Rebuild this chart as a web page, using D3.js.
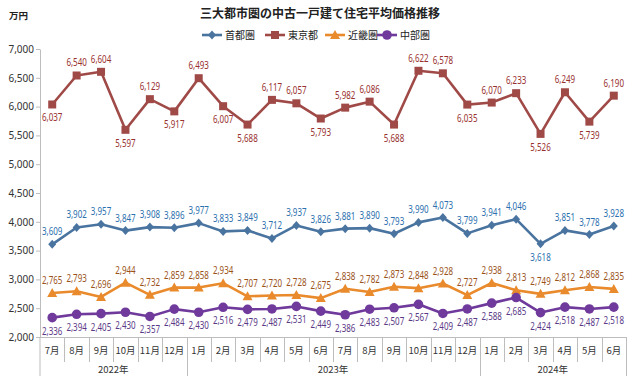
<!DOCTYPE html>
<html><head><meta charset="utf-8">
<script src="https://cdn.jsdelivr.net/npm/d3@7"></script>
<style>body{margin:0;background:#fff}svg{display:block}</style>
</head><body>
<script>
const months = ["7月","8月","9月","10月","11月","12月","1月","2月","3月","4月","5月","6月","7月","8月","9月","10月","11月","12月","1月","2月","3月","4月","5月","6月"];
const years = [{label:"2022年", n:6},{label:"2023年", n:12},{label:"2024年", n:6}];
const shutoken = [3609,3902,3957,3847,3908,3896,3977,3833,3849,3712,3937,3826,3881,3890,3793,3990,4073,3799,3941,4046,3618,3851,3778,3928];
const tokyo = [6037,6540,6604,5597,6129,5917,6493,6007,5688,6117,6057,5793,5982,6086,5688,6622,6578,6035,6070,6233,5526,6249,5739,6190];
const kinki = [2765,2793,2696,2944,2732,2859,2858,2934,2707,2720,2728,2675,2838,2782,2873,2848,2928,2727,2938,2813,2749,2812,2868,2835];
const chubu = [2336,2394,2405,2430,2357,2484,2430,2516,2479,2487,2531,2449,2386,2483,2507,2567,2409,2487,2588,2685,2424,2518,2487,2518];
const yTicks = [2000,2500,3000,3500,4000,4500,5000,5500,6000,6500,7000];
// label placement: 1 = above, -1 = below
const tokyoPos = [-1,1,1,-1,1,-1,1,-1,-1,1,1,-1,1,1,-1,1,1,-1,1,1,-1,1,-1,1];
const shutokenPos = [1,1,1,1,1,1,1,1,1,1,1,1,1,1,1,1,1,1,1,1,-1,1,1,1];

const series = [
  {name:"首都圏", values:shutoken, color:"#4a74a0", label:"#2a6fae", shape:"diamond", pos:shutokenPos},
  {name:"東京都", values:tokyo, color:"#a04a48", label:"#98302e", shape:"square", pos:tokyoPos},
  {name:"近畿圏", values:kinki, color:"#e98a2c", label:"#9a5218", shape:"triangle", pos:kinki.map(()=>1)},
  {name:"中部圏", values:chubu, color:"#6f3a9c", label:"#5a3a86", shape:"circle", pos:chubu.map(()=>-1)}
];

const W=640,H=381;
const svg=d3.select("body").append("svg").attr("width",W).attr("height",H);
const jp = "'Noto Sans CJK JP','Noto Sans',sans-serif";
const num = "'Noto Sans','Open Sans',sans-serif";

const x=d3.scaleBand().domain(d3.range(months.length)).range([40,626]);
const y=d3.scaleLinear().domain([2000,7000]).range([337,49]);

// y axis
const yAxis=d3.axisLeft(y).tickValues(yTicks).tickFormat(d3.format(",")).tickSize(4).tickSizeOuter(0);
const gy=svg.append("g").attr("transform","translate(40,0)").call(yAxis);
gy.select(".domain").attr("stroke","#bdbdbd");
gy.selectAll(".tick line").attr("stroke","#bdbdbd");
gy.selectAll("text").attr("font-family",num).attr("font-size",10).attr("fill","#333").attr("x",-6);
// extend axis line to bottom
svg.append("line").attr("x1",40).attr("x2",40).attr("y1",337).attr("y2",376).attr("stroke","#bdbdbd");

// x axis baseline
svg.append("line").attr("x1",40).attr("x2",626).attr("y1",337.5).attr("y2",337.5).attr("stroke","#bdbdbd");
// month separators
let idx=0; const yearBounds=[0];
years.forEach(yv=>{idx+=yv.n; yearBounds.push(idx);});
d3.range(1,months.length+1).forEach(i=>{
  const xx = i<months.length ? x(i) : x(months.length-1)+x.bandwidth();
  const isYear = yearBounds.includes(i);
  svg.append("line").attr("x1",Math.round(xx)+0.5).attr("x2",Math.round(xx)+0.5).attr("y1",337).attr("y2",isYear?376:362).attr("stroke","#bdbdbd");
});
svg.append("g").selectAll("text").data(months).join("text")
  .attr("x",(d,i)=>x(i)+x.bandwidth()/2).attr("y",354).attr("text-anchor","middle")
  .attr("font-family",jp).attr("font-size",9.5).attr("fill","#333").text(d=>d);
svg.append("g").selectAll("text").data(years).join("text")
  .attr("x",(d,i)=>{const a=x(yearBounds[i]); const e=yearBounds[i+1]; const b= e<months.length? x(e): x(months.length-1)+x.bandwidth(); return (a+b)/2;})
  .attr("y",373).attr("text-anchor","middle")
  .attr("font-family",jp).attr("font-size",9.5).attr("fill","#333").text(d=>d.label);

// title & unit
svg.append("text").attr("x",320).attr("y",18).attr("text-anchor","middle").attr("font-family",jp)
  .attr("font-size",12).attr("font-weight","bold").attr("fill","#222").text("三大都市圏の中古一戸建て住宅平均価格推移");
svg.append("text").attr("x",9).attr("y",19).attr("font-family",jp)
  .attr("font-size",9.5).attr("font-weight","bold").attr("fill","#222").text("万円");

function marker(g,shape,color,cx,cy){
  if(shape==="diamond") g.append("path").attr("d",`M${cx},${cy-4.5}L${cx+4},${cy}L${cx},${cy+4.5}L${cx-4},${cy}Z`).attr("fill",color);
  else if(shape==="square") g.append("rect").attr("x",cx-4).attr("y",cy-4).attr("width",8).attr("height",8).attr("fill",color);
  else if(shape==="triangle") g.append("path").attr("d",`M${cx},${cy-5}L${cx+5},${cy+4}L${cx-5},${cy+4}Z`).attr("fill",color);
  else g.append("circle").attr("cx",cx).attr("cy",cy).attr("r",4.8).attr("fill",color);
}

const line=d3.line().x((d,i)=>x(i)+x.bandwidth()/2).y(d=>y(d));
series.forEach(s=>{
  const g=svg.append("g");
  g.append("path").datum(s.values).attr("d",line).attr("fill","none").attr("stroke",s.color).attr("stroke-width",2.6).attr("stroke-linejoin","round");
  s.values.forEach((v,i)=>marker(g,s.shape,s.color,x(i)+x.bandwidth()/2,y(v)));
  g.selectAll("text").data(s.values).join("text")
    .attr("transform",(d,i)=>`translate(${x(i)+x.bandwidth()/2},${y(d)+(s.pos[i]>0?-9:17)}) scale(0.8,1)`)
    .attr("text-anchor","middle").attr("font-family",num).attr("font-size",10).attr("fill",s.label)
    .text(d=>d3.format(",")(d));
});

// legend
const legX=[202,265,325,377];
series.forEach((s,i)=>{
  const g=svg.append("g");
  const lx=legX[i], ly=35;
  g.append("line").attr("x1",lx).attr("x2",lx+20).attr("y1",ly).attr("y2",ly).attr("stroke",s.color).attr("stroke-width",2.6);
  marker(g,s.shape,s.color,lx+10,ly);
  g.append("text").attr("x",lx+23).attr("y",ly+3.5).attr("font-family",jp).attr("font-size",10).attr("fill","#222").text(s.name);
});
</script>
</body></html>
